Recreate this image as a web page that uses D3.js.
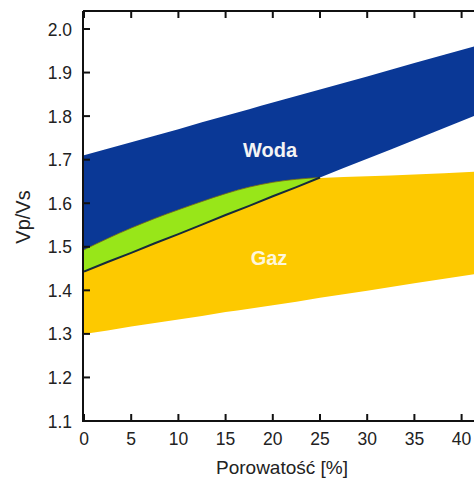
<!doctype html>
<html lang='en'>
<head>
<meta charset='UTF-8'>
<title>Vp/Vs</title>
<style>
  body { margin: 0; background: #fff; overflow: hidden; }
  svg { display: block; font-family: 'Liberation Sans', Arial, sans-serif; }
</style>
</head>
<body>
<script src='https://d3js.org/d3.v7.min.js'></script>
<script>
  // porosity samples [%]
  const porosity = [0, 2.5, 5, 7.5, 10, 12.5, 15, 17.5, 20, 22.5, 25, 30, 35, 42]
  // water band (Woda)
  const wodaTop = [1.71, 1.725, 1.74, 1.755, 1.77, 1.786, 1.801, 1.816, 1.831, 1.846, 1.861, 1.891, 1.922, 1.964]
  const wodaBottom = [1.443, 1.465, 1.486, 1.508, 1.529, 1.551, 1.573, 1.594, 1.616, 1.637, 1.659, 1.702, 1.745, 1.806]
  // gas band (Gaz)
  const gazTop = [1.493, 1.519, 1.543, 1.565, 1.585, 1.604, 1.622, 1.637, 1.648, 1.655, 1.658, 1.662, 1.666, 1.673]
  const gazBottom = [1.30, 1.308, 1.317, 1.325, 1.333, 1.341, 1.35, 1.358, 1.366, 1.374, 1.383, 1.399, 1.416, 1.439]

  const xTicks = [0, 5, 10, 15, 20, 25, 30, 35, 40]
  const yTicks = [1.1, 1.2, 1.3, 1.4, 1.5, 1.6, 1.7, 1.8, 1.9, 2.0]

  const W = 474, H = 482
  const x = d3.scaleLinear().domain([0, 42]).range([84, 84 + 42 * 9.44])
  const y = d3.scaleLinear().domain([1.1, 2.0]).range([421, 29])
  const yTop = 11

  const svg = d3.select('body').append('svg').attr('width', W).attr('height', H)

  const rows = porosity.map((p, i) => ({
    p, wt: wodaTop[i], wb: wodaBottom[i], gt: gazTop[i], gb: gazBottom[i]
  }))
  // overlap runs until the gas top meets the water bottom
  const end = rows.findIndex(d => d.gt <= d.wb)
  const overlap = rows.slice(0, end + 1)
  const ovTop = d => y(Math.max(d.gt, d.wb))

  svg.append('clipPath').attr('id', 'plot')
    .append('rect').attr('x', 84).attr('y', yTop).attr('width', W).attr('height', 421 - yTop)

  const g = svg.append('g').attr('clip-path', 'url(#plot)')
  const curve = d3.curveMonotoneX

  // gas band
  g.append('path')
    .datum(rows)
    .attr('fill', '#fdc900')
    .attr('d', d3.area().curve(curve).x(d => x(d.p)).y0(d => y(d.gb)).y1(d => y(d.gt)))

  // water band
  g.append('path')
    .datum(rows)
    .attr('fill', '#0a3896')
    .attr('d', d3.area().curve(curve).x(d => x(d.p)).y0(d => y(d.wb)).y1(d => y(d.wt)))

  // overlap (green)
  g.append('path')
    .datum(overlap)
    .attr('fill', '#98e619')
    .attr('d', d3.area().curve(curve).x(d => x(d.p)).y0(d => y(d.wb)).y1(ovTop))

  // top edge of the overlap
  g.append('path')
    .datum(overlap)
    .attr('fill', 'none')
    .attr('stroke', '#7a6a12')
    .attr('stroke-width', 0.8)
    .attr('d', d3.line().curve(curve).x(d => x(d.p)).y(ovTop))

  // water lower boundary inside overlap
  g.append('path')
    .datum(overlap)
    .attr('fill', 'none')
    .attr('stroke', '#152a3c')
    .attr('stroke-width', 2)
    .attr('d', d3.line().x(d => x(d.p)).y(d => y(d.wb)))

  // labels in bands
  svg.append('text').attr('x', 270).attr('y', 157).attr('text-anchor', 'middle')
    .attr('font-size', 20).attr('font-weight', 'bold').attr('fill', '#f4f4f4').text('Woda')
  svg.append('text').attr('x', 269).attr('y', 265).attr('text-anchor', 'middle')
    .attr('font-size', 20).attr('font-weight', 'bold').attr('fill', '#fdf6dc').text('Gaz')

  // axes
  const ax = svg.append('g').attr('stroke', '#111').attr('stroke-width', 2)
  ax.append('line').attr('x1', 83).attr('x2', W).attr('y1', 421).attr('y2', 421)
  ax.append('line').attr('x1', 83).attr('x2', W).attr('y1', yTop).attr('y2', yTop)
  ax.append('line').attr('x1', 83).attr('x2', 83).attr('y1', yTop).attr('y2', 422)

  ax.selectAll('.tb').data(xTicks).enter().append('line')
    .attr('x1', d => x(d)).attr('x2', d => x(d)).attr('y1', 421).attr('y2', 414)
  ax.selectAll('.tt').data(xTicks).enter().append('line')
    .attr('x1', d => x(d)).attr('x2', d => x(d)).attr('y1', yTop).attr('y2', yTop + 7)
  ax.selectAll('.tl').data(yTicks).enter().append('line')
    .attr('x1', 83).attr('x2', 90).attr('y1', d => y(d)).attr('y2', d => y(d))

  svg.selectAll('.xl').data(xTicks).enter().append('text')
    .attr('x', d => x(d)).attr('y', 445).attr('text-anchor', 'middle')
    .attr('font-size', 17.5).attr('fill', '#222').text(d => d)
  svg.selectAll('.yl').data(yTicks).enter().append('text')
    .attr('x', 72).attr('y', d => y(d) + 6.5).attr('text-anchor', 'end')
    .attr('font-size', 17.5).attr('fill', '#222').text(d => d.toFixed(1))

  svg.append('text').attr('x', 282).attr('y', 474).attr('text-anchor', 'middle')
    .attr('font-size', 19).attr('fill', '#222').text('Porowatość [%]')
  svg.append('text').attr('transform', 'translate(30,217) rotate(-90)').attr('text-anchor', 'middle')
    .attr('font-size', 20).attr('fill', '#222').text('Vp/Vs')
</script>
</body>
</html>
